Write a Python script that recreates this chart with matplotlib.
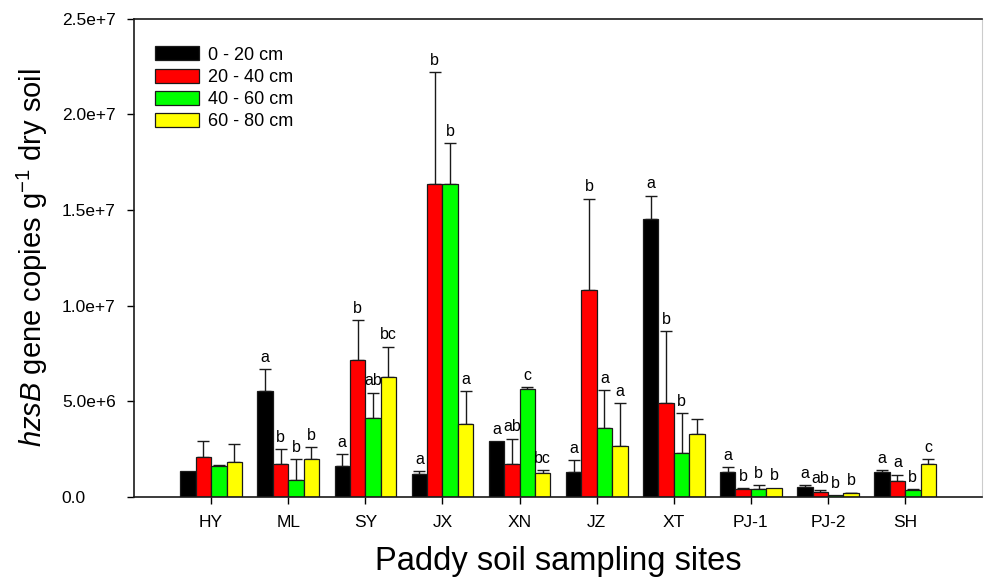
import numpy as np
import matplotlib
matplotlib.use("Agg")
import matplotlib.pyplot as plt

plt.rcParams['font.family'] = ['Liberation Sans', 'DejaVu Sans']
plt.rcParams['mathtext.fontset'] = 'custom'
plt.rcParams['mathtext.rm'] = 'Liberation Sans'
plt.rcParams['mathtext.it'] = 'Liberation Sans:italic'

sites = ["HY", "ML", "SY", "JX", "XN", "JZ", "XT", "PJ-1", "PJ-2", "SH"]
depths = ["0 - 20 cm", "20 - 40 cm", "40 - 60 cm", "60 - 80 cm"]
colors = ["#000000", "#ff0000", "#00ff00", "#ffff00"]

# means (copies per g dry soil), one list per depth
d0_20 = [1.35e6, 5.54e6, 1.64e6, 1.19e6, 2.91e6, 1.29e6, 1.454e7, 1.29e6, 0.51e6, 1.29e6]
d20_40 = [2.08e6, 1.74e6, 7.17e6, 1.637e7, 1.74e6, 1.083e7, 4.90e6, 0.43e6, 0.25e6, 0.82e6]
d40_60 = [1.64e6, 0.87e6, 4.15e6, 1.637e7, 5.65e6, 3.62e6, 2.32e6, 0.40e6, 0.10e6, 0.37e6]
d60_80 = [1.81e6, 2.00e6, 6.29e6, 3.83e6, 1.24e6, 2.67e6, 3.30e6, 0.49e6, 0.21e6, 1.74e6]

# upper error (SD), 0 = no bar shown
e0_20 = [0, 1.15e6, 0.62e6, 0.17e6, 0, 0.63e6, 1.22e6, 0.26e6, 0.12e6, 0.11e6]
e20_40 = [0.83e6, 0.77e6, 2.09e6, 5.83e6, 1.31e6, 4.77e6, 3.77e6, 0.02e6, 0.13e6, 0.35e6]
e40_60 = [0.05e6, 1.12e6, 1.31e6, 2.13e6, 0.10e6, 1.98e6, 2.07e6, 0.24e6, 0, 0.05e6]
e60_80 = [0.96e6, 0.60e6, 1.57e6, 1.70e6, 0.16e6, 2.25e6, 0.80e6, 0, 0.02e6, 0.26e6]

# significance letters
l0_20 = ["", "a", "a", "a", "a", "a", "a", "a", "a", "a"]
l20_40 = ["", "b", "b", "b", "ab", "b", "b", "b", "ab", "a"]
l40_60 = ["", "b", "ab", "b", "c", "a", "b", "b", "b", "b"]
l60_80 = ["", "b", "bc", "a", "bc", "a", "", "b", "b", "c"]

yticks = [0, 5e6, 1e7, 1.5e7, 2e7, 2.5e7]
ytick_labels = ["0.0", "5.0e+6", "1.0e+7", "1.5e+7", "2.0e+7", "2.5e+7"]

means = [d0_20, d20_40, d40_60, d60_80]
errs = [e0_20, e20_40, e40_60, e60_80]
letters = [l0_20, l20_40, l40_60, l60_80]

fig = plt.figure(figsize=(9.84, 5.79), dpi=100)
ax = fig.add_axes([0.1362, 0.1416, 0.862, 0.826])

x = np.arange(len(sites))
w = 0.2
for i in range(4):
	xi = x + (i - 1.5) * w
	vals = np.array(means[i])
	er = np.array(errs[i])
	ax.bar(xi, vals, w, color=colors[i], edgecolor="#1a1a1a", linewidth=0.9,
		label=depths[i], zorder=2)
	m = er > 0
	ax.errorbar(xi[m], vals[m], yerr=[np.zeros(m.sum()), er[m]], fmt="none",
		ecolor="#1a1a1a", elinewidth=1, capsize=4, capthick=1, zorder=1)
	for j in range(len(sites)):
		if letters[i][j]:
			ax.annotate(letters[i][j], (xi[j], vals[j] + er[j]), xytext=(0, 3),
				textcoords="offset points", ha="center", va="bottom", fontsize=11.5)

ax.set_xlim(-1, 10)
ax.set_ylim(0, 2.5e7)
ax.set_xticks(x)
ax.set_xticklabels(sites, fontsize=12.5)
ax.set_yticks(yticks)
ax.set_yticklabels(ytick_labels, fontsize=12.5)
ax.tick_params(axis="x", direction="out", length=5, width=1, pad=8)
ax.tick_params(axis="y", direction="out", length=5, width=1, pad=47)
for t in ax.get_yticklabels():
	t.set_horizontalalignment("left")

for s in ["left", "bottom", "top"]:
	ax.spines[s].set_linewidth(1.2)
	ax.spines[s].set_color("#1a1a1a")
ax.spines["right"].set_color("#cccccc")

ax.set_ylabel(r"$\mathit{hzsB}$ gene copies g$^{-1}$ dry soil", fontsize=21)
ax.yaxis.set_label_coords(-0.099, 0.5)
ax.set_xlabel("Paddy soil sampling sites", fontsize=23.5)
ax.xaxis.set_label_coords(0.5, -0.103)

ax.legend(loc="upper left", bbox_to_anchor=(0.025, 0.942), frameon=False,
	fontsize=13, borderpad=0, borderaxespad=0, labelspacing=0.28,
	handlelength=2.4, handleheight=0.8, handletextpad=0.55)

fig.savefig("out.png", dpi=100)
